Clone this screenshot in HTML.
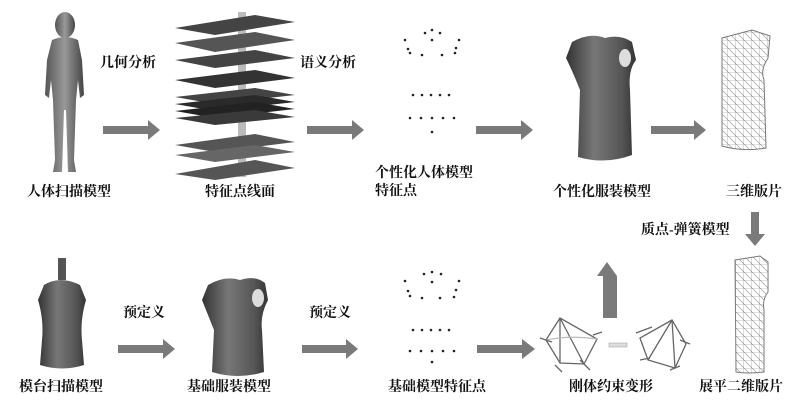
<!DOCTYPE html>
<html><head><meta charset="utf-8"><style>
html,body{margin:0;padding:0;background:#fff}
svg{display:block}
text{font-family:"Liberation Serif","Noto Serif CJK SC",serif;font-size:14px;fill:#111;font-weight:bold}
</style></head><body>
<svg width="800" height="409" viewBox="0 0 800 409" xmlns="http://www.w3.org/2000/svg">
<defs>
<linearGradient id="body" x1="0" x2="1"><stop offset="0" stop-color="#555"/><stop offset=".5" stop-color="#999"/><stop offset="1" stop-color="#444"/></linearGradient>
<linearGradient id="torso" x1="0" x2="1"><stop offset="0" stop-color="#333"/><stop offset=".4" stop-color="#777"/><stop offset=".8" stop-color="#555"/><stop offset="1" stop-color="#333"/></linearGradient>
<pattern id="mesh" width="8" height="8" patternUnits="userSpaceOnUse"><path d="M0 0H8V8M0 0L8 8" stroke="#888" stroke-width=".6" fill="none"/></pattern>
</defs>
<g fill="#7a7a7a">
<path d="M103 126H148V120L160 130L148 140V134H103Z"/>
<path d="M307 126H352V120L364 130L352 140V134H307Z"/>
<path d="M476 126H521V120L533 130L521 140V134H476Z"/>
<path d="M651 126H694V120L706 130L694 140V134H651Z"/>
<path d="M751 212H759V234H765L755 246L745 234H751Z"/>
<path d="M118 345H163V339L175 349L163 359V353H118Z"/>
<path d="M302 345H346V339L358 349L346 359V353H302Z"/>
<path d="M477 345H522V339L535 349L522 359V353H477Z"/>
<path d="M603 318V276H597L607 262L617 276V318Z"/>
</g>
<g fill="url(#body)">
<ellipse cx="65" cy="25" rx="10" ry="13"/>
<path d="M52 40Q65 34 78 40L82 60L84 95L80 98L78 80L76 100L74 160L76 172L68 172L66 110L64 110L62 172L53 172L55 160L53 100L51 80L49 98L45 95L47 60Z"/>
</g>
<g>
<rect x="238" y="12" width="8" height="165" fill="#bbb"/>
<g fill="#444">
<path d="M175 28L255 15L295 22L215 35Z"/>
<path d="M175 43L255 32L295 40L215 52Z" fill="#555"/>
<path d="M175 60L255 50L295 58L215 68Z"/>
<path d="M175 80L255 70L295 78L215 88Z" fill="#333"/>
<path d="M175 97L255 88L295 95L215 104Z"/>
<path d="M175 104L255 95L295 102L215 111Z" fill="#2a2a2a"/>
<path d="M175 111L255 102L295 109L215 118Z" fill="#222"/>
<path d="M175 118L255 110L295 117L215 125Z" fill="#3a3a3a"/>
<path d="M175 145L255 134L295 142L215 152Z" fill="#555"/>
<path d="M175 155L255 145L295 152L215 162Z" fill="#666"/>
<path d="M175 174L255 160L295 168L215 180Z" fill="#555"/>
</g>
</g>
<g fill="#222">
<circle cx="425" cy="33" r="1.3"/><circle cx="432" cy="30" r="1.3"/><circle cx="440" cy="33" r="1.3"/><circle cx="432" cy="40" r="1.3"/>
<circle cx="405" cy="40" r="1.3"/><circle cx="459" cy="40" r="1.3"/><circle cx="408" cy="49" r="1.3"/><circle cx="456" cy="48" r="1.3"/>
<circle cx="410" cy="53" r="1.3"/><circle cx="422" cy="55" r="1.3"/><circle cx="442" cy="55" r="1.3"/><circle cx="455" cy="53" r="1.3"/>
<circle cx="413" cy="95" r="1.3"/><circle cx="422" cy="95" r="1.3"/><circle cx="431" cy="95" r="1.3"/><circle cx="440" cy="95" r="1.3"/><circle cx="449" cy="95" r="1.3"/>
<circle cx="410" cy="118" r="1.3"/><circle cx="421" cy="118" r="1.3"/><circle cx="432" cy="118" r="1.3"/><circle cx="443" cy="118" r="1.3"/><circle cx="454" cy="118" r="1.3"/><circle cx="432" cy="132" r="1.3"/>
</g>
<g fill="#222">
<circle cx="424" cy="274" r="1.3"/><circle cx="432" cy="272" r="1.3"/><circle cx="441" cy="274" r="1.3"/><circle cx="432" cy="282" r="1.3"/>
<circle cx="405" cy="281" r="1.3"/><circle cx="459" cy="281" r="1.3"/><circle cx="408" cy="291" r="1.3"/><circle cx="456" cy="290" r="1.3"/>
<circle cx="410" cy="296" r="1.3"/><circle cx="422" cy="298" r="1.3"/><circle cx="440" cy="298" r="1.3"/><circle cx="454" cy="297" r="1.3"/>
<circle cx="413" cy="330" r="1.3"/><circle cx="422" cy="330" r="1.3"/><circle cx="431" cy="330" r="1.3"/><circle cx="440" cy="330" r="1.3"/><circle cx="449" cy="330" r="1.3"/>
<circle cx="410" cy="351" r="1.3"/><circle cx="421" cy="351" r="1.3"/><circle cx="432" cy="351" r="1.3"/><circle cx="443" cy="351" r="1.3"/><circle cx="454" cy="351" r="1.3"/><circle cx="432" cy="362" r="1.3"/>
</g>
<path d="M572 42Q590 32 605 38Q620 34 632 42L636 60Q628 70 630 90L632 155Q605 165 578 157L580 90Q572 70 566 58Z" fill="url(#torso)"/>
<ellipse cx="625" cy="58" rx="6" ry="9" fill="#ddd"/>
<path d="M722 38L752 30L770 36L768 58Q760 70 764 80L766 148Q742 152 722 146Z" fill="#fff" stroke="#777"/>
<path d="M722 38L752 30L770 36L768 58Q760 70 764 80L766 148Q742 152 722 146Z" fill="url(#mesh)"/>
<rect x="58" y="258" width="8" height="22" fill="#555"/>
<path d="M44 285Q60 275 80 285L86 300Q80 320 82 340L84 365Q62 372 40 365L42 340Q44 320 38 300Z" fill="url(#torso)"/>
<path d="M208 285Q225 275 240 280Q255 275 265 283L268 300Q260 315 262 330L264 372Q238 380 212 372L214 330Q208 315 202 300Z" fill="url(#torso)"/>
<ellipse cx="258" cy="298" rx="6" ry="9" fill="#ddd"/>
<path d="M735 260L760 256L768 262L768 292Q762 300 764 310L764 372Q748 374 736 372Z" fill="#fff" stroke="#777"/>
<path d="M735 260L760 256L768 262L768 292Q762 300 764 310L764 372Q748 374 736 372Z" fill="url(#mesh)"/>
<g stroke="#666" stroke-width="1.3" fill="none">
<path d="M560 318L546 340L560 363L584 364L597 339Z"/>
<path d="M560 318L560 363M560 318L584 364"/>
<path d="M546 340Q570 335 597 339" stroke="#bbb"/>
<path d="M540 338L552 342M555 365L562 372M580 360L590 370M593 335L602 332"/>
<path d="M672 320L640 338L648 360L675 368L686 344Z"/>
<path d="M672 320L648 360M672 320L675 368"/>
<path d="M636 333L652 327M680 340L690 344M640 360L650 358M670 370L680 366"/>
</g>
<rect x="609" y="343" width="18" height="4" fill="#ddd" stroke="#999" stroke-width=".5"/>
<text x="100" y="67">几何分析</text>
<text x="300" y="67">语义分析</text>
<text x="27" y="196">人体扫描模型</text>
<text x="205" y="196">特征点线面</text>
<text x="375" y="177">个性化人体模型</text>
<text x="375" y="195">特征点</text>
<text x="553" y="196">个性化服装模型</text>
<text x="726" y="196">三维版片</text>
<text x="641" y="234">质点-弹簧模型</text>
<text x="123" y="317">预定义</text>
<text x="309" y="317">预定义</text>
<text x="19" y="391">模台扫描模型</text>
<text x="187" y="391">基础服装模型</text>
<text x="388" y="391">基础模型特征点</text>
<text x="569" y="391">刚体约束变形</text>
<text x="699" y="391">展平二维版片</text>
</svg>
</body></html>
